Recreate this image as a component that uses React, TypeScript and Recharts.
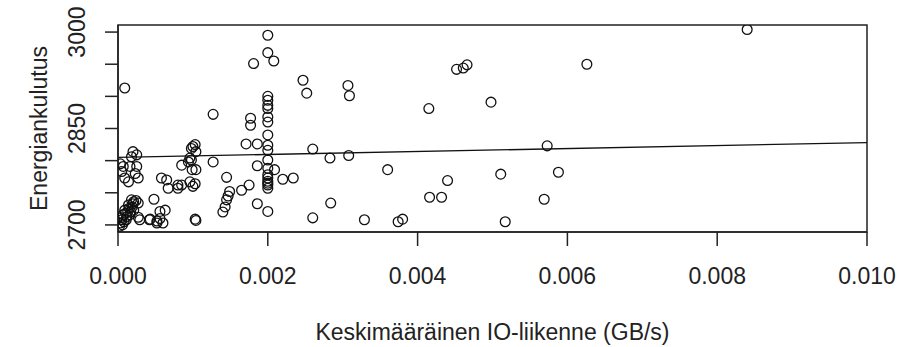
import {
  ScatterChart,
  Scatter,
  XAxis,
  YAxis,
  ReferenceArea,
  ReferenceLine,
} from 'recharts'

// keskimääräinen IO-liikenne (GB/s)
const ioTraffic = [
  0.0084, 0.00626, 0.00498, 0.00573, 0.00511, 0.00588, 0.00569, 0.00517, 0.00466, 0.00461,
  0.00452, 0.00415, 0.0044, 0.00416, 0.00432, 0.00374, 0.0038, 0.0036, 0.00329, 0.00307,
  0.00309, 0.00308, 0.00283, 0.00284, 0.0026, 0.0026, 0.00247, 0.00252, 0.00234, 0.0022,
  0.002, 0.002, 0.00208, 0.00181, 0.002, 0.002, 0.002, 0.002, 0.002, 0.002,
  0.002, 0.002, 0.002, 0.002, 0.002, 0.002, 0.002, 0.002, 0.002, 0.002,
  0.002, 0.002, 0.00209, 0.00186, 0.00186, 0.00171, 0.00177, 0.00177, 0.00186, 0.00175,
  0.00165, 0.00149, 0.00147, 0.00145, 0.00143, 0.0014, 0.00145, 0.00127, 0.00127, 0.00103,
  0.001, 0.00104, 0.00098, 0.00096, 0.00098, 0.00094, 0.00085, 0.00104, 0.00099, 0.00096,
  0.00103, 0.00085, 0.001, 0.00103, 0.00104, 0.00058, 0.00065, 0.00067, 0.0008, 0.0008,
  0.00048, 0.00056, 0.00063, 0.00042, 0.00029, 0.00052, 0.00056, 0.00052, 0.0006, 0.00043,
  0.00009, 0.0002, 0.00018, 0.00025, 0.00007, 0.00016, 0.00025, 0.00005, 0.00014, 0.00009,
  0.00027, 0.00023, 0.00003, 0.00018, 0.00021, 0.00027, 0.00014, 0.00019, 0.00009, 0.00013,
  0.00021, 0.00007, 0.00012, 0.00016, 0.00005, 0.00011, 0.00003, 0.00006, 0.00008, 0.00027,
  0.00002, 0.00015, 0.0001, 0.0002, 0.00004, 0.00017, 0.00024,
]

// energiankulutus
const energy = [
  3004, 2950, 2891, 2823, 2779, 2782, 2740, 2705, 2949, 2944,
  2942, 2881, 2769, 2743, 2743, 2705, 2709, 2786, 2708, 2917,
  2901, 2808, 2804, 2734, 2818, 2711, 2925, 2905, 2773, 2771,
  2995, 2968, 2955, 2951, 2900, 2894, 2886, 2881, 2868, 2860,
  2840, 2824, 2816, 2801, 2788, 2778, 2773, 2768, 2765, 2762,
  2757, 2721, 2786, 2792, 2826, 2826, 2866, 2855, 2733, 2762,
  2754, 2752, 2745, 2739, 2728, 2720, 2774, 2872, 2798, 2825,
  2822, 2814, 2819, 2804, 2801, 2798, 2793, 2786, 2786, 2767,
  2764, 2762, 2760, 2709, 2707, 2773, 2770, 2757, 2762, 2757,
  2740, 2721, 2723, 2708, 2708, 2706, 2710, 2703, 2703, 2709,
  2913, 2814, 2806, 2809, 2791, 2791, 2791, 2783, 2767, 2773,
  2773, 2780, 2795, 2739, 2736, 2734, 2731, 2728, 2723, 2721,
  2723, 2716, 2713, 2716, 2708, 2708, 2703, 2700, 2705, 2712,
  2698, 2726, 2718, 2733, 2711, 2720, 2738,
]

// regressiosuora
const fitX = [0, 0.01]
const fitY = [2805, 2828]

const xTicks = [0, 0.002, 0.004, 0.006, 0.008, 0.01]
const yTicks = [2700, 2750, 2800, 2850, 2900, 2950, 3000]
const yLabelled = [2700, 2850, 3000]

const points = ioTraffic.map((x, i) => ({ x, y: energy[i] }))

const FONT = '"Liberation Sans", Arial, Helvetica, sans-serif'
const INK = '#222'

const XTick = ({ x, y, payload }: any) => (
  <text x={x} y={y + 38} textAnchor="middle" fontSize={23} fill={INK} fontFamily={FONT}>
    {payload.value.toFixed(3)}
  </text>
)

const YTick = ({ x, y, payload }: any) => {
  if (!yLabelled.includes(payload.value)) return <g />
  const bx = x - 20
  return (
    <text
      x={bx}
      y={y}
      transform={`rotate(-90, ${bx}, ${y})`}
      textAnchor="middle"
      fontSize={23}
      fill={INK}
      fontFamily={FONT}
    >
      {payload.value}
    </text>
  )
}

const Ring = ({ cx, cy }: any) => (
  <circle cx={cx} cy={cy} r={4.9} fill="none" stroke="#111" strokeWidth={1.3} />
)

export default function App() {
  return (
    <div style={{ position: 'absolute', left: 0, top: 0, width: 899, height: 347, background: '#fff' }}>
      <ScatterChart width={899} height={347} margin={{ top: 25, right: 32, left: 0, bottom: 0 }}>
        <XAxis
          type="number"
          dataKey="x"
          domain={[0, 0.01]}
          ticks={xTicks}
          allowDataOverflow
          height={115}
          tickSize={14}
          tickMargin={0}
          tick={<XTick />}
          axisLine={{ stroke: INK, strokeWidth: 1.5 }}
          tickLine={{ stroke: INK, strokeWidth: 1.5 }}
          label={({ viewBox }: any) => (
            <text
              x={viewBox.x + viewBox.width / 2}
              y={viewBox.y + 108}
              textAnchor="middle"
              fontSize={23}
              fill={INK}
              fontFamily={FONT}
            >
              Keskimääräinen IO-liikenne (GB/s)
            </text>
          )}
        />
        <YAxis
          type="number"
          dataKey="y"
          domain={[2689, 3011]}
          ticks={yTicks}
          allowDataOverflow
          width={118}
          tickSize={13}
          tickMargin={0}
          tick={<YTick />}
          axisLine={{ stroke: INK, strokeWidth: 1.5 }}
          tickLine={{ stroke: INK, strokeWidth: 1.5 }}
          label={({ viewBox }: any) => {
            const lx = viewBox.x + 47
            const ly = viewBox.y + viewBox.height / 2
            return (
              <text
                x={lx}
                y={ly}
                transform={`rotate(-90, ${lx}, ${ly})`}
                textAnchor="middle"
                fontSize={23}
                fill={INK}
                fontFamily={FONT}
              >
                Energiankulutus
              </text>
            )
          }}
        />
        <ReferenceArea
          x1={0}
          x2={0.01}
          y1={2689}
          y2={3011}
          fill="none"
          stroke={INK}
          strokeWidth={1.5}
          ifOverflow="visible"
        />
        <ReferenceLine
          segment={[
            { x: fitX[0], y: fitY[0] },
            { x: fitX[1], y: fitY[1] },
          ]}
          stroke="#111"
          strokeWidth={1.3}
          ifOverflow="visible"
        />
        <Scatter data={points} shape={<Ring />} isAnimationActive={false} />
      </ScatterChart>
    </div>
  )
}
